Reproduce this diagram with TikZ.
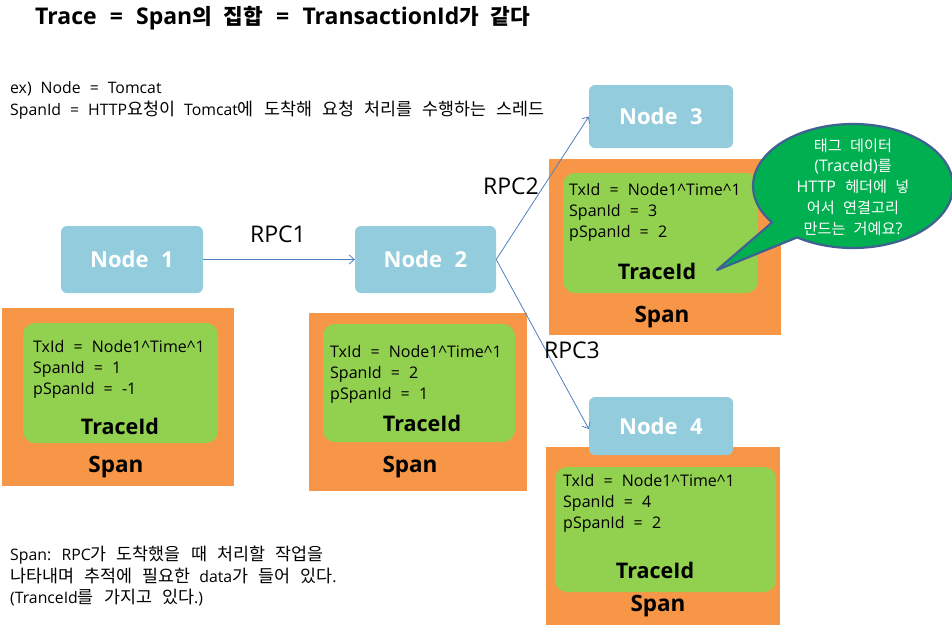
\documentclass[tikz,border=0pt]{standalone}
\usepackage{fontspec}
\setmainfont{Open Sans}[WordSpace=2.2]
\newfontfamily\krfont{Noto Sans CJK KR}[Scale=1.1, WordSpace=2.6]
\newfontfamily\krtitlefont{Noto Sans CJK KR}[Scale=0.93, WordSpace=2.4]
\newfontfamily\krbubfont{Noto Sans CJK KR}[Scale=0.95, WordSpace=2.4]
\newcommand\kr[1]{{\krfont #1}}
\newcommand\krt[1]{{\krtitlefont #1}}
\newcommand\krb[1]{{\krbubfont #1}}
\usetikzlibrary{arrows.meta}
\definecolor{nodeblue}{HTML}{93CDDD}
\definecolor{spanorange}{HTML}{F79646}
\definecolor{tracegreen}{HTML}{92D050}
\definecolor{bubblegreen}{HTML}{00B050}
\definecolor{bubbleedge}{HTML}{3E6191}
\definecolor{arrowblue}{HTML}{4F7FBD}
\tikzset{
  nodebox/.style={fill=nodeblue, rounded corners=6pt, text=white, font=\fontsize{22}{26}\selectfont\bfseries, inner sep=0pt},
  spanbox/.style={fill=spanorange, inner sep=0pt},
  tracebox/.style={fill=tracegreen, rounded corners=12pt, inner sep=0pt},
  info/.style={anchor=west, align=left, font=\fontsize{16}{21}\selectfont, inner sep=0pt},
  tracelbl/.style={font=\fontsize{21.5}{24}\selectfont\bfseries, inner sep=0pt},
  spanlbl/.style={font=\fontsize{22.5}{24}\selectfont\bfseries, inner sep=0pt},
  rpclbl/.style={font=\fontsize{23}{26}\selectfont, inner sep=0pt},
  rpc/.style={draw=arrowblue, line width=0.8pt, -{Straight Barb[length=5pt,width=9pt]}},
  plaintext/.style={anchor=west, align=left, font=\fontsize{15.8}{21.8}\selectfont, inner sep=0pt}
}
\begin{document}
\begin{tikzpicture}[x=1pt,y=-1pt]
\useasboundingbox (0,0) rectangle (952,635);
% title
\node[anchor=west, inner sep=0pt, font=\fontsize{23}{26}\selectfont\bfseries] (title) at (35,18.5) {Trace = Span\krt{의 집합} = TransactionId\krt{가 같다}};
\node[plaintext] (ex) at (10,100) {ex) Node = Tomcat\\SpanId = HTTP\kr{요청이} Tomcat\kr{에 도착해 요청 처리를 수행하는 스레드}};
% spans
\node[spanbox, minimum width=232pt, minimum height=178pt] (s1) at (118,397) {};
\node[spanbox, minimum width=218pt, minimum height=178pt] (s2) at (418,402) {};
\node[spanbox, minimum width=232pt, minimum height=176pt] (s3) at (665,247) {};
\node[spanbox, minimum width=234pt, minimum height=178pt] (s4) at (663,536) {};
\node[tracebox, minimum width=195pt, minimum height=120pt] (g1) at (120.5,383) {};
\node[tracebox, minimum width=192pt, minimum height=118pt] (g2) at (419,383) {};
\node[tracebox, minimum width=195pt, minimum height=120pt] (g3) at (660.5,233) {};
\node[tracebox, minimum width=221pt, minimum height=125pt] (g4) at (665.5,529.5) {};
\node[info] (i1) at (33,369) {TxId = Node1\^{}Time\^{}1\\SpanId = 1\\pSpanId = -1};
\node[info] (i2) at (330,374) {TxId = Node1\^{}Time\^{}1\\SpanId = 2\\pSpanId = 1};
\node[info] (i3) at (569,212) {TxId = Node1\^{}Time\^{}1\\SpanId = 3\\pSpanId = 2};
\node[info] (i4) at (563,503) {TxId = Node1\^{}Time\^{}1\\SpanId = 4\\pSpanId = 2};
\node[tracelbl] (t1) at (120,426) {TraceId};
\node[tracelbl] (t2) at (422,423) {TraceId};
\node[tracelbl] (t3) at (657,271) {TraceId};
\node[tracelbl] (t4) at (655,570) {TraceId};
\node[spanlbl] (l1) at (116,467) {Span};
\node[spanlbl] (l2) at (410,467) {Span};
\node[spanlbl] (l3) at (662,317) {Span};
\node[spanlbl] (l4) at (658,606) {Span};
% nodes
\node[nodebox, minimum width=142pt, minimum height=67pt] (n1) at (132,259.5) {Node 1};
\node[nodebox, minimum width=141pt, minimum height=67pt] (n2) at (425.5,259.5) {Node 2};
\node[nodebox, minimum width=144pt, minimum height=63pt] (n3) at (661,116.5) {Node 3};
\node[nodebox, minimum width=144pt, minimum height=58pt] (n4) at (661,426) {Node 4};
% connectors
\draw[rpc] (n1.east) -- (n2.west);
\draw[rpc] (n2.east) -- (n3.west);
\draw[rpc] (n2.east) -- ([yshift=-3pt]n4.west);
\node[rpclbl] (r1) at (278,234) {RPC1};
\node[rpclbl] (r2) at (511,186) {RPC2};
\node[rpclbl] (r3) at (572,350) {RPC3};
% bubble
\coordinate (tip) at (717,270);
\draw[fill=bubblegreen, draw=bubbleedge, line width=2.2pt, line join=round] (853,186) ++(124:100 and 62) arc[start angle=124, end angle=-216, x radius=100, y radius=62] -- (tip) -- cycle;
\node[align=center, text=white, inner sep=0pt, font=\fontsize{16}{20.7}\selectfont] (bt) at (853,187) {\krb{태그 데이터}\\(TraceId)\krb{를}\\HTTP \krb{헤더에 넣}\\\krb{어서 연결고리}\\\krb{만드는 거예요}?};
% bottom note
\node[plaintext] (note) at (10,576) {Span: RPC\kr{가 도착했을 때 처리할 작업을}\\\kr{나타내며 추적에 필요한} data\kr{가 들어 있다}.\\(TranceId\kr{를 가지고 있다}.)};
\end{tikzpicture}
\end{document}
